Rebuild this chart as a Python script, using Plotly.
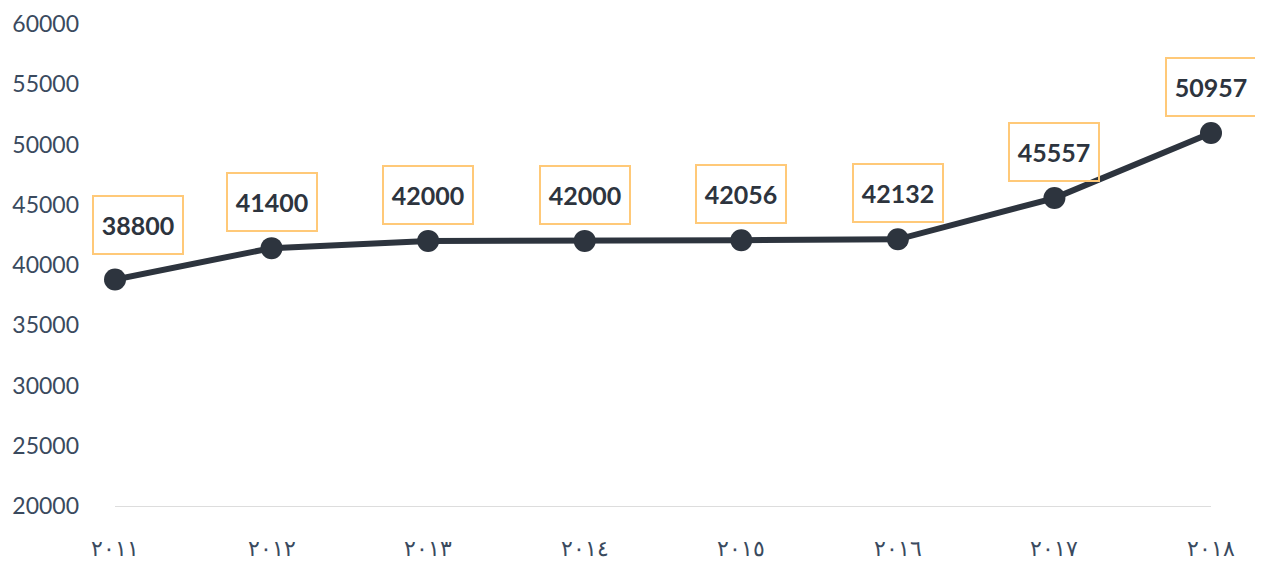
import plotly.graph_objects as go

years = ["٢٠١١", "٢٠١٢", "٢٠١٣", "٢٠١٤", "٢٠١٥", "٢٠١٦", "٢٠١٧", "٢٠١٨"]
values = [38800, 41400, 42000, 42000, 42056, 42132, 45557, 50957]
y_ticks = [20000, 25000, 30000, 35000, 40000, 45000, 50000, 55000, 60000]

line_color = "#2d343e"
box_color = "#ffc978"
text_color = "#2d343e"
tick_color = "#3a4a5e"

fig = go.Figure()
fig.add_trace(go.Scatter(
    x=years, y=values, mode="lines+markers",
    line=dict(color=line_color, width=6),
    marker=dict(color=line_color, size=22),
    cliponaxis=False, hoverinfo="skip",
))

for i, (yr, v) in enumerate(zip(years, values)):
    first = i == 0
    fig.add_annotation(
        x=yr, y=v, text=f"<b>{v}</b>", showarrow=False,
        xshift=23 if first else 0, yshift=54 if first else 46,
        font=dict(family="Lato", size=25, color=text_color),
        bordercolor=box_color, borderwidth=2, borderpad=7,
        width=74, height=42, bgcolor="rgba(255,255,255,0)",
    )

fig.update_layout(
    width=1255, height=555,
    margin=dict(l=107, r=52, t=16, b=57, autoexpand=False),
    paper_bgcolor="white", plot_bgcolor="white",
    showlegend=False,
    font=dict(family="Lato", color=tick_color),
)
fig.update_xaxes(
    type="category", range=[0, len(years) - 1], automargin=False,
    showgrid=False, zeroline=False,
    showline=True, linecolor="#dddddd", linewidth=1,
    ticks="", ticklabelstandoff=23, ticklabeloverflow="allow",
    tickfont=dict(size=22, color=tick_color),
)
fig.update_yaxes(
    range=[20000, 60000], tickvals=y_ticks, ticktext=[str(t) for t in y_ticks],
    automargin=False,
    showgrid=False, zeroline=False, showline=False,
    ticks="", ticklabelstandoff=35, ticklabelshift=0, ticklabeloverflow="allow",
    tickfont=dict(size=23, color=tick_color),
)

fig.write_html("out.html")
